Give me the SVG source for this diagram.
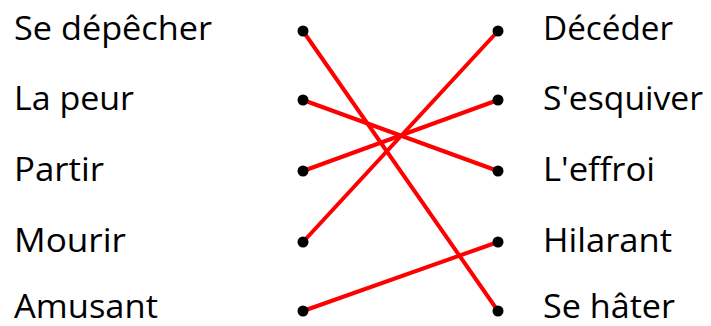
<svg xmlns="http://www.w3.org/2000/svg" width="711" height="326" viewBox="0 0 711 326">
<style>
text{font-family:"Open Sans","Noto Sans",sans-serif;font-size:32px;fill:#000}
.dot{fill:#000}
.c line{stroke:#ff0000;stroke-width:4;stroke-linecap:round}
</style>
<rect width="711" height="326" fill="#fff"/>
<g class="c" id="connectors">
<line x1="303" y1="31" x2="498" y2="311"/>
<line x1="303" y1="100" x2="498" y2="171"/>
<line x1="303" y1="171" x2="498" y2="100"/>
<line x1="303" y1="242" x2="498" y2="31"/>
<line x1="303" y1="311" x2="498" y2="242"/>
</g>
<g id="l1"><text x="14" y="40" textLength="198" lengthAdjust="spacingAndGlyphs">Se dépêcher</text><circle class="dot" cx="303" cy="31" r="5.5"/></g>
<g id="l2"><text x="14" y="110" textLength="120" lengthAdjust="spacingAndGlyphs">La peur</text><circle class="dot" cx="303" cy="100" r="5.5"/></g>
<g id="l3"><text x="14" y="181" textLength="90" lengthAdjust="spacingAndGlyphs">Partir</text><circle class="dot" cx="303" cy="171" r="5.5"/></g>
<g id="l4"><text x="14" y="252" textLength="112" lengthAdjust="spacingAndGlyphs">Mourir</text><circle class="dot" cx="303" cy="242" r="5.5"/></g>
<g id="l5"><text x="14" y="318" textLength="144" lengthAdjust="spacingAndGlyphs">Amusant</text><circle class="dot" cx="303" cy="311" r="5.5"/></g>
<g id="r1"><circle class="dot" cx="498" cy="31" r="5.5"/><text x="543" y="40" textLength="130" lengthAdjust="spacingAndGlyphs">Décéder</text></g>
<g id="r2"><circle class="dot" cx="498" cy="100" r="5.5"/><text x="543" y="110" textLength="160" lengthAdjust="spacingAndGlyphs">S'esquiver</text></g>
<g id="r3"><circle class="dot" cx="498" cy="171" r="5.5"/><text x="543" y="181" textLength="112" lengthAdjust="spacingAndGlyphs">L'effroi</text></g>
<g id="r4"><circle class="dot" cx="498" cy="242" r="5.5"/><text x="543" y="252" textLength="129" lengthAdjust="spacingAndGlyphs">Hilarant</text></g>
<g id="r5"><circle class="dot" cx="498" cy="311" r="5.5"/><text x="543" y="318" textLength="132" lengthAdjust="spacingAndGlyphs">Se hâter</text></g>
</svg>
